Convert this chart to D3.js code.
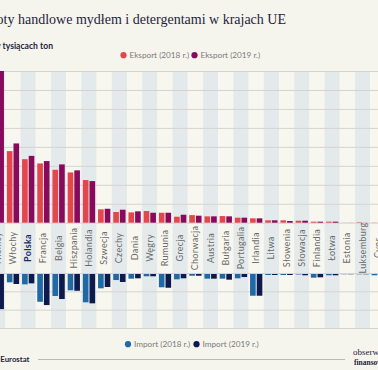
<!DOCTYPE html>
<html><head><meta charset="utf-8">
<script src="https://cdnjs.cloudflare.com/ajax/libs/d3/7.8.5/d3.min.js"></script>
<style>
html,body{margin:0;padding:0;background:#f6f5ed;}
svg{display:block;}
</style></head>
<body><svg id="c" width="378" height="370"></svg>
<script>
const countries = ["Niemcy","Włochy","Polska","Francja","Belgia","Hiszpania","Holandia","Szwecja","Czechy","Dania","Węgry","Rumunia","Grecja","Chorwacja","Austria","Bułgaria","Portugalia","Irlandia","Litwa","Słowenia","Słowacja","Finlandia","Łotwa","Estonia","Luksemburg","Cypr","Malta"];
const export2018 = [2300,755,670,625,558,530,450,141,113,109,123,105,63,80,67,70,53,46,25,25,21,11,11,1,5,2,2];
const export2019 = [2400,836,705,650,615,552,439,147,137,120,105,105,84,74,67,67,53,46,25,18,21,11,11,1,1,2,2];
const import2018 = [370,91,113,303,240,178,309,156,66,51,25,145,58,19,51,51,47,237,11,11,5,40,14,3,3,14,10];
const import2019 = [383,109,102,339,273,183,320,142,87,47,25,150,47,19,51,62,33,237,11,11,14,36,14,3,3,12,10];
const exportTicks = [0,200,400,600,800,1000,1200,1400,1600];
const importTicks = [0,200,400,600];
const title = "Obroty handlowe mydłem i detergentami w krajach UE";
const subtitle = "Dane w tysiącach ton";
const legendTop = [["Eksport (2018 r.)","#e4474b"],["Eksport (2019 r.)","#870a5c"]];
const legendBottom = [["Import (2018 r.)","#1f69a6"],["Import (2019 r.)","#0d1a4e"]];

const svg = d3.select("#c");
const step = 15.2;
const x = d3.scaleBand().domain(countries).range([-9.8, -9.8 + countries.length*step]).padding(0);
const xi = d3.scaleBand().domain([0,1]).range([0, step]).paddingInner(0.15).paddingOuter(0.22);
const yE = d3.scaleLinear().domain([0,1600]).range([222.7,71]).clamp(true);
const yI = d3.scaleLinear().domain([0,600]).range([274,329]).clamp(true);

svg.append("rect").attr("width",378).attr("height",370).attr("fill","#f6f5ed");
svg.append("g").selectAll("rect").data(countries).join("rect")
  .attr("x", d=>x(d)).attr("width", x.bandwidth())
  .attr("y", yE(1600)).attr("height", yI(600)-yE(1600))
  .attr("fill", (d,i)=> i%2===0 ? "#e4eaec" : "#f8f7ef");
svg.append("g").selectAll("line").data(exportTicks).join("line")
  .attr("x1",0).attr("x2",378).attr("y1",d=>yE(d)+0.5).attr("y2",d=>yE(d)+0.5)
  .attr("stroke","#d2d4d1").attr("stroke-width",1);
svg.append("g").selectAll("line").data(importTicks).join("line")
  .attr("x1",0).attr("x2",378).attr("y1",d=>yI(d)-0.5).attr("y2",d=>yI(d)-0.5)
  .attr("stroke","#d2d4d1").attr("stroke-width",1);

const ex = svg.append("g");
countries.forEach((c,i)=>{
  [[export2018[i],legendTop[0][1]],[export2019[i],legendTop[1][1]]].forEach(([v,col],k)=>{
    ex.append("rect").attr("x", x(c)+xi(k)).attr("width", xi.bandwidth())
      .attr("y", yE(v)).attr("height", yE(0)-yE(v)).attr("fill", col);
  });
  [[import2018[i],legendBottom[0][1]],[import2019[i],legendBottom[1][1]]].forEach(([v,col],k)=>{
    ex.append("rect").attr("x", x(c)+xi(k)).attr("width", xi.bandwidth())
      .attr("y", yI(0)).attr("height", yI(v)-yI(0)).attr("fill", col);
  });
});

svg.append("g").selectAll("text").data(countries).join("text")
  .attr("transform", d=>`translate(${x(d)+step/2+3},248) rotate(-90)`)
  .attr("text-anchor","middle")
  .attr("font-family","Lato, 'Open Sans', sans-serif")
  .attr("font-size", 9)
  .attr("letter-spacing", 0.3)
  .attr("font-weight", d=> d==="Polska" ? 700 : 400)
  .attr("fill", d=> d==="Polska" ? "#1b2a60" : "#6a6a6a")
  .text(d=>d);

svg.append("text").attr("x",286).attr("y",24).attr("text-anchor","end")
  .attr("font-family","'Liberation Serif', serif").attr("font-size",14)
  .attr("fill","#1e2340").text(title);
svg.append("text").attr("x",53).attr("y",48.5).attr("text-anchor","end")
  .attr("font-family","Lato, sans-serif").attr("font-size",8.6).attr("font-weight",700)
  .attr("fill","#1e2340").text(subtitle);

function legend(items, xs, y){
  const g = svg.append("g");
  items.forEach((it,i)=>{
    g.append("circle").attr("cx",xs[i]).attr("cy",y-2.8).attr("r",3.1).attr("fill",it[1]);
    g.append("text").attr("x",xs[i]+6).attr("y",y)
      .attr("font-family","Lato, sans-serif").attr("font-size",8.2)
      .attr("fill","#7a7a7a").text(it[0]);
  });
}
legend(legendTop,[123.5,194.5],58);
legend(legendBottom,[128,196.5],347);

svg.append("text").attr("x",29.5).attr("y",361.5).attr("text-anchor","end")
  .attr("font-family","Lato, sans-serif").attr("font-size",7.8).attr("font-weight",700)
  .attr("fill","#1e2340").text("Źródło: Eurostat");
svg.append("line").attr("x1",38).attr("x2",345).attr("y1",359.5).attr("y2",359.5)
  .attr("stroke","#a9a9a9").attr("stroke-width",0.8);
svg.append("text").attr("x",353).attr("y",355.3)
  .attr("font-family","'Liberation Serif', serif").attr("font-size",9)
  .attr("fill","#1e2340").text("obserwator");
svg.append("text").attr("x",354).attr("y",364.5)
  .attr("font-family","'Liberation Serif', serif").attr("font-size",7.5).attr("font-weight",700)
  .attr("fill","#1e2340").text("finansowy");
</script></body></html>
